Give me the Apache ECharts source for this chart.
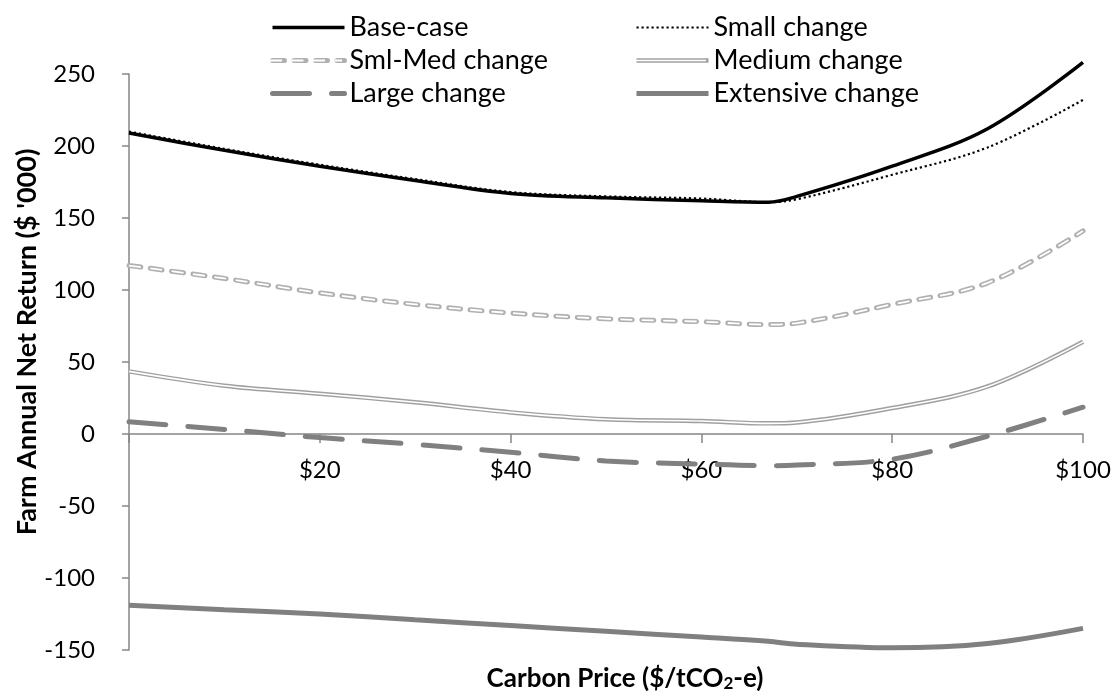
<!DOCTYPE html>
<html>
<head>
<meta charset="utf-8">
<script src="https://cdn.jsdelivr.net/npm/echarts@6/dist/echarts.min.js"></script>
<style>html,body{margin:0;padding:0;background:#fff}#c{width:1114px;height:691px}</style>
</head>
<body>
<div id="c"></div>
<script>
// Carbon price ($/tCO2-e)
const carbonPrice = [0, 10, 20, 30, 40, 50, 60, 67, 70, 80, 90, 100];
// Farm annual net return ($ '000)
const baseCase   = [209, 197, 186, 176, 167, 164, 162, 161, 165, 186, 212, 258];
const smallChg   = [210, 198, 187, 177, 168, 165, 163.5, 161, 163, 180, 199, 232];
const smlMedChg  = [117, 108, 98, 90, 84, 80, 78, 76, 77, 90, 105, 141];
const mediumChg  = [43.5, 33.5, 28, 22, 15, 10.2, 9, 7.4, 8, 18, 33, 64];
const largeChg   = [8.5, 3.2, -2.5, -7.2, -12.7, -18.7, -20.9, -22, -21.6, -17.5, -1.5, 18.6];
const extensiveChg = [-119, -122, -125, -129, -133, -137, -141, -144, -146, -148.5, -145.5, -135];
const yTicks = {min: -150, max: 250, interval: 50};
const xTicks = {min: 0, max: 100, interval: 20};

const pairs = arr => carbonPrice.map((x, i) => [x, arr[i]]);
const FONT = 'Lato, "Open Sans", sans-serif';
const AX = '#868686';
const SM = 0.35;
const GRID = {left: 129, right: 31, top: 74, bottom: 41};
const plotH = 691 - GRID.top - GRID.bottom;
const zeroOffset = -plotH * (0 - yTicks.min) / (yTicks.max - yTicks.min);

const LEG = {top: 9, pad: 5, fs: 27, gap: 6, iw: 72, left1: 265, left2: 629};
const legendText = {fontFamily: FONT, fontSize: LEG.fs, color: '#000', lineHeight: LEG.fs};
const rowY = r => LEG.top + LEG.pad + r * (LEG.fs + LEG.gap) + LEG.fs / 2;
const SMLMED_DASH = [12, 9.5];

const chart = echarts.init(document.getElementById('c'), null, {renderer: 'canvas'});
chart.setOption({
  animation: false,
  textStyle: {fontFamily: FONT},
  grid: Object.assign({containLabel: false}, GRID),
  title: {
    text: 'Carbon Price ($/tCO{sub|2}-e)',
    left: 620, top: 660, textAlign: 'center',
    textStyle: {
      fontFamily: FONT, fontSize: 26, fontWeight: 'bold', color: '#000',
      rich: {sub: {fontSize: 17, fontWeight: 'bold', verticalAlign: 'bottom', padding: [10, 0, 0, 0], fontFamily: FONT, color: '#000'}}
    }
  },
  graphic: [
    {
      type: 'text', x: 27, y: 342, rotation: Math.PI / 2,
      style: {
        text: "Farm Annual Net Return ($ '000)",
        fontFamily: FONT, fontSize: 27, fontWeight: 'bold', fill: '#000',
        align: 'center', verticalAlign: 'middle', textAlign: 'center', textVerticalAlign: 'middle'
      }
    },
    {
      type: 'line', z: 100,
      shape: {x1: LEG.left2 + LEG.pad, y1: rowY(1), x2: LEG.left2 + LEG.pad + LEG.iw, y2: rowY(1)},
      style: {stroke: '#ffffff', lineWidth: 1.6}
    },
    {
      type: 'line', z: 100,
      shape: {x1: LEG.left1 + LEG.pad, y1: rowY(1), x2: LEG.left1 + LEG.pad + LEG.iw, y2: rowY(1)},
      style: {stroke: '#ffffff', lineWidth: 1.8, lineDash: SMLMED_DASH}
    }
  ],
  legend: [
    {
      data: [
        {name: 'Base-case', lineStyle: {width: 3.5}},
        {name: 'Sml-Med change', lineStyle: {width: 5}},
        {name: 'Large change', lineStyle: {width: 5}}
      ],
      orient: 'vertical', left: LEG.left1, top: LEG.top, itemWidth: LEG.iw, itemHeight: 14, itemGap: LEG.gap,
      itemStyle: {opacity: 0},
      textStyle: legendText, selectedMode: false
    },
    {
      data: [
        {name: 'Small change', lineStyle: {width: 2.2}},
        {name: 'Medium change', lineStyle: {width: 4.5}},
        {name: 'Extensive change', lineStyle: {width: 5}}
      ],
      orient: 'vertical', left: LEG.left2, top: LEG.top, itemWidth: LEG.iw, itemHeight: 14, itemGap: LEG.gap,
      itemStyle: {opacity: 0},
      textStyle: legendText, selectedMode: false
    }
  ],
  xAxis: {
    type: 'value', min: xTicks.min, max: xTicks.max, interval: xTicks.interval,
    offset: zeroOffset,
    axisLine: {onZero: false, lineStyle: {color: AX, width: 1.5}},
    axisTick: {show: true, length: 9, lineStyle: {color: AX, width: 1.5}},
    axisLabel: {
      margin: 24, fontSize: 24, color: '#000', fontFamily: FONT,
      formatter: v => v === 0 ? '' : '$' + v
    },
    splitLine: {show: false}
  },
  yAxis: {
    type: 'value', min: yTicks.min, max: yTicks.max, interval: yTicks.interval,
    axisLine: {show: true, onZero: false, lineStyle: {color: AX, width: 1.5}},
    axisTick: {show: true, length: 7, lineStyle: {color: AX, width: 1.5}},
    axisLabel: {margin: 34, fontSize: 24, color: '#000', fontFamily: FONT},
    splitLine: {show: false}
  },
  series: [
    {name: 'Extensive change', type: 'line', data: pairs(extensiveChg), smooth: SM, symbol: 'none', clip: false,
     lineStyle: {color: '#808080', width: 5}, itemStyle: {color: '#808080'}, z: 2},
    {name: 'Large change', type: 'line', data: pairs(largeChg), smooth: SM, symbol: 'none', clip: false,
     lineStyle: {color: '#808080', width: 5, type: [37, 22], cap: 'round'}, itemStyle: {color: '#808080'}, z: 2},
    {name: 'Medium change', type: 'line', data: pairs(mediumChg), smooth: SM, symbol: 'none', clip: false,
     lineStyle: {color: '#a0a0a0', width: 4.5}, itemStyle: {color: '#a0a0a0'}, z: 2},
    {name: 'Medium change inner', type: 'line', data: pairs(mediumChg), smooth: SM, symbol: 'none', clip: false,
     lineStyle: {color: '#ffffff', width: 1.6}, itemStyle: {color: '#ffffff'}, z: 3, silent: true},
    {name: 'Sml-Med change', type: 'line', data: pairs(smlMedChg), smooth: SM, symbol: 'none', clip: false,
     lineStyle: {color: '#b0b0b0', width: 5, type: SMLMED_DASH, cap: 'round'}, itemStyle: {color: '#b0b0b0'}, z: 2},
    {name: 'Sml-Med change inner', type: 'line', data: pairs(smlMedChg), smooth: SM, symbol: 'none', clip: false,
     lineStyle: {color: '#ffffff', width: 1.8, type: SMLMED_DASH, cap: 'butt'}, itemStyle: {color: '#ffffff'}, z: 3, silent: true},
    {name: 'Base-case', type: 'line', data: pairs(baseCase), smooth: SM, symbol: 'none', clip: false,
     lineStyle: {color: '#000000', width: 3.5}, itemStyle: {color: '#000000'}, z: 4},
    {name: 'Small change', type: 'line', data: pairs(smallChg), smooth: SM, symbol: 'none', clip: false,
     lineStyle: {color: '#000000', width: 2.2, type: [2.2, 2.8]}, itemStyle: {color: '#000000'}, z: 5}
  ]
});
</script>
</body>
</html>
